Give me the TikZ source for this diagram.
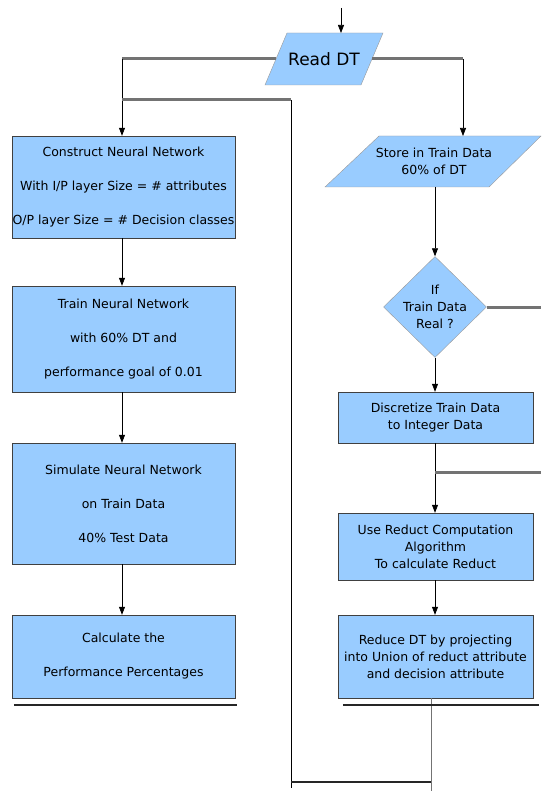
\documentclass[tikz,border=0pt]{standalone}
\usepackage{fontspec}
\setmainfont{DejaVu Sans}
\usetikzlibrary{shapes.geometric,arrows.meta}
\definecolor{boxblue}{RGB}{153,204,255}
\tikzset{
	block/.style={draw=black!75, fill=boxblue, align=center, inner sep=0pt},
	lefttext/.style={font=\fontsize{12.5}{34}\selectfont},
	righttext/.style={font=\fontsize{12.5}{17}\selectfont, align=center},
	iobox/.style={draw=black!40, fill=boxblue},
	decision/.style={draw=black!40, fill=boxblue, diamond, inner sep=0pt},
	flow/.style={draw=black, line width=0.7pt, -{Triangle[length=8pt,width=6pt]}},
	link/.style={draw=black, line width=0.7pt},
	feed/.style={draw=black!55, line width=3pt},
	shade/.style={draw=black!85, line width=2pt}
}
\begin{document}
\begin{tikzpicture}[x=1pt,y=-1pt]
		\useasboundingbox (0,0) rectangle (541,791);

		\draw[iobox] (265,85) -- (287,33) -- (383,33) -- (361,85) -- cycle;
		\node[font=\fontsize{17}{20}\selectfont] (readdt) at (324,59) {Read DT};
		\draw[iobox] (325,187) -- (379,136) -- (541,136) -- (489,187) -- cycle;
		\node[righttext] (store) at (434,161.5) {Store in Train Data\\60\% of DT};

		\node[block, lefttext, minimum width=223pt, minimum height=102pt] (construct) at (123.5,187) {Construct Neural Network\\With I/P layer Size = \# attributes\\O/P layer Size = \# Decision classes};
		\node[block, lefttext, minimum width=223pt, minimum height=106pt] (train) at (123.5,339) {Train Neural Network\\with 60\% DT and\\performance goal of 0.01};
		\node[block, lefttext, minimum width=223pt, minimum height=121pt] (simulate) at (123.5,503.5) {Simulate Neural Network\\on Train Data\\40\% Test Data};
		\node[block, lefttext, minimum width=223pt, minimum height=83pt] (calc) at (123.5,656.5) {Calculate the\\Performance Percentages};

		\node[decision, minimum width=103pt, minimum height=101pt] (realq) at (435,307) {};
		\node[righttext] (realtxt) at (realq) {If\\Train Data\\Real ?};

		\node[block, righttext, minimum width=195pt, minimum height=51pt] (discretize) at (435.5,417.5) {Discretize Train Data\\to Integer Data};
		\node[block, righttext, minimum width=195pt, minimum height=67pt] (reduct) at (435.5,546.5) {Use Reduct Computation\\Algorithm\\To calculate Reduct};
		\node[block, righttext, minimum width=195pt, minimum height=83pt] (reduce) at (435.5,656.5) {Reduce DT by projecting\\into Union of reduct attribute\\and decision attribute};

		\coordinate (entry) at (341,8);
		\coordinate (readtop) at (341,33);
		\coordinate (readw) at (276,59);
		\coordinate (reade) at (372,59);
		\coordinate (lsplit) at (122,59);
		\coordinate (rsplit) at (463,59);
		\coordinate (storetop) at (463,136);
		\coordinate (storebot) at (435,187);
		\coordinate (ltee) at (122,100);
		\coordinate (lcorner) at (291,100);
		\coordinate (lfoot) at (291,788);
		\coordinate (rfoot) at (431,791);
		\coordinate (qexit) at (541,307);
		\coordinate (dexit) at (541,472);

		\draw[flow] (entry) -- (readtop);
		\draw[feed] (readw) -- (lsplit);
		\draw[feed] (reade) -- (rsplit);
		\draw[flow] (lsplit) -- (lsplit |- construct.north);
		\draw[flow] (rsplit) -- (storetop);
		\draw[feed] (ltee) -- (lcorner);
		\draw[link] (lcorner) -- (lfoot);

		\draw[flow] (construct.south -| lsplit) -- (train.north -| lsplit);
		\draw[flow] (train.south -| lsplit) -- (simulate.north -| lsplit);
		\draw[flow] (simulate.south -| lsplit) -- (calc.north -| lsplit);

		\draw[flow] (storebot) -- (realq.north);
		\draw[feed] (realq.east) -- (qexit);
		\draw[flow] (realq.south) -- (discretize.north -| realq);
		\draw[flow] (discretize.south -| realq) -- (reduct.north -| realq);
		\draw[feed] (dexit -| realq) -- (dexit);
		\draw[flow] (reduct.south -| realq) -- (reduce.north -| realq);
		\draw[link, draw=black!55] (reduce.south -| rfoot) -- (rfoot);
		\draw[shade] (lfoot |- 0,782) -- (rfoot |- 0,782);

		\draw[shade] ([xshift=2pt,yshift=-7pt]calc.south west) -- ([xshift=2pt,yshift=-7pt]calc.south east);
		\draw[shade] ([xshift=5pt,yshift=-7pt]reduce.south west) -- ([xshift=6pt,yshift=-7pt]reduce.south east);
	\end{tikzpicture}
\end{document}
